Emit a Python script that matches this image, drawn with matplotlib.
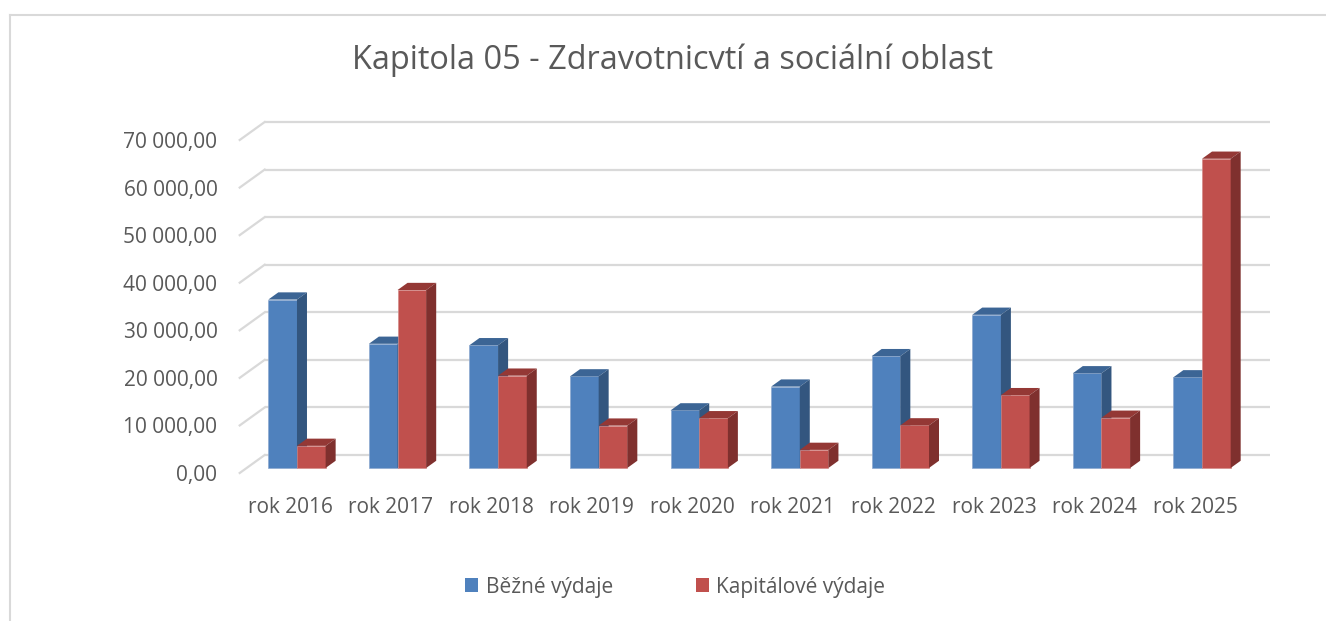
import matplotlib
matplotlib.use("Agg")
import matplotlib.pyplot as plt
from matplotlib.patches import Polygon, Patch
from matplotlib.lines import Line2D

plt.rcParams['font.family'] = ['Open Sans', 'DejaVu Sans']

categories = ["rok 2016", "rok 2017", "rok 2018", "rok 2019", "rok 2020",
              "rok 2021", "rok 2022", "rok 2023", "rok 2024", "rok 2025"]
bezne = [35400, 26100, 25800, 19250, 12100, 17100, 23500, 32200, 19900, 19050]
kapitalove = [4650, 37400, 19400, 8900, 10450, 3800, 8950, 15300, 10550, 65000]
series_names = ["Běžné výdaje", "Kapitálové výdaje"]
yticks = [0, 10000, 20000, 30000, 40000, 50000, 60000, 70000]
ytick_labels = ["0,00", "10 000,00", "20 000,00", "30 000,00", "40 000,00",
                "50 000,00", "60 000,00", "70 000,00"]
title = "Kapitola 05 - Zdravotnicvtí a sociální oblast"

W, H = 1326, 621
fig = plt.figure(figsize=(W / 100, H / 100), dpi=100)
fig.patch.set_facecolor("white")

# front plane of the 3D box in pixels
x0_px, x1_px = 239.7, 1245.3
y0_px, y1_px = 473.0, 140.0
ax = fig.add_axes([x0_px / W, 1 - y0_px / H, (x1_px - x0_px) / W, (y0_px - y1_px) / H])
ax.set_xlim(-0.5, 9.5)
ax.set_ylim(0, 70000)
for s in ax.spines.values():
    s.set_visible(False)
ax.set_facecolor("none")

px_x = 10.0 / (x1_px - x0_px)          # category units per pixel
px_y = 70000.0 / (y0_px - y1_px)       # value units per pixel
DX = 25 * px_x                          # full floor depth offset
DY = 18 * px_y

grid_c = "#D9D9D9"
# back wall gridlines and left wall diagonals
for v in yticks:
    ax.plot([-0.5 + DX, 9.5 + DX], [v + DY, v + DY], color=grid_c, lw=1.6,
            clip_on=False, zorder=1, solid_capstyle="butt")
    ax.plot([-0.5, -0.5 + DX], [v, v + DY], color=grid_c, lw=1.6,
            clip_on=False, zorder=1)

f0, f1 = 0.28, 0.68
w = 0.285
colors = {
    0: ("#4F81BD", "#3C6595", "#33567F"),
    1: ("#C0504D", "#943835", "#7F302E"),
}

def draw_bar(xl, val, cols, z):
    front, top, side = cols
    bx = xl + f0 * DX
    by = f0 * DY
    ax.bar(bx, val, width=w, bottom=by, align="edge", color=front,
           edgecolor="#8DA9D0" if front == "#4F81BD" else "#D48B89",
           linewidth=0.5, zorder=z, clip_on=False)
    ddx = (f1 - f0) * DX
    ddy = (f1 - f0) * DY
    ax.add_patch(Polygon([(bx, by + val), (bx + w, by + val),
                          (bx + w + ddx, by + val + ddy), (bx + ddx, by + val + ddy)],
                         closed=True, facecolor=top, edgecolor="none",
                         zorder=z, clip_on=False))
    ax.add_patch(Polygon([(bx + w, by), (bx + w + ddx, by + ddy),
                          (bx + w + ddx, by + val + ddy), (bx + w, by + val)],
                         closed=True, facecolor=side, edgecolor="none",
                         zorder=z, clip_on=False))

z = 2
for i in range(len(categories)):
    draw_bar(i - w, bezne[i], colors[0], z)
    z += 1
    draw_bar(i, kapitalove[i], colors[1], z)
    z += 1

text_c = "#595959"
ax.set_yticks(yticks)
ax.set_yticklabels(ytick_labels, fontsize=15, color=text_c)
ax.set_xticks(range(len(categories)))
ax.set_xticklabels(categories, fontsize=15, color=text_c)
ax.tick_params(axis="y", length=0, pad=16)
ax.tick_params(axis="x", length=0, pad=17)

fig.text(673 / W, 1 - 60 / H, title, ha="center", va="center",
         fontsize=23.4, color=text_c)

handles = [Patch(facecolor="#4F81BD", edgecolor="none"),
           Patch(facecolor="#C0504D", edgecolor="none")]
fig.legend(handles, series_names, loc="center", bbox_to_anchor=(675.5 / W, 1 - 587 / H),
           ncol=2, frameon=False, fontsize=15, labelcolor=text_c,
           handlelength=0.62, handleheight=0.62, handletextpad=0.35,
           columnspacing=4.0)

# chart border (top and left)
fig.add_artist(Line2D([10 / W, 1.0], [1 - 15 / H, 1 - 15 / H], color=grid_c, lw=1.5,
                      transform=fig.transFigure))
fig.add_artist(Line2D([10 / W, 10 / W], [0, 1 - 15 / H], color=grid_c, lw=1.5,
                      transform=fig.transFigure))

fig.savefig("out.png", dpi=100, facecolor="white")
